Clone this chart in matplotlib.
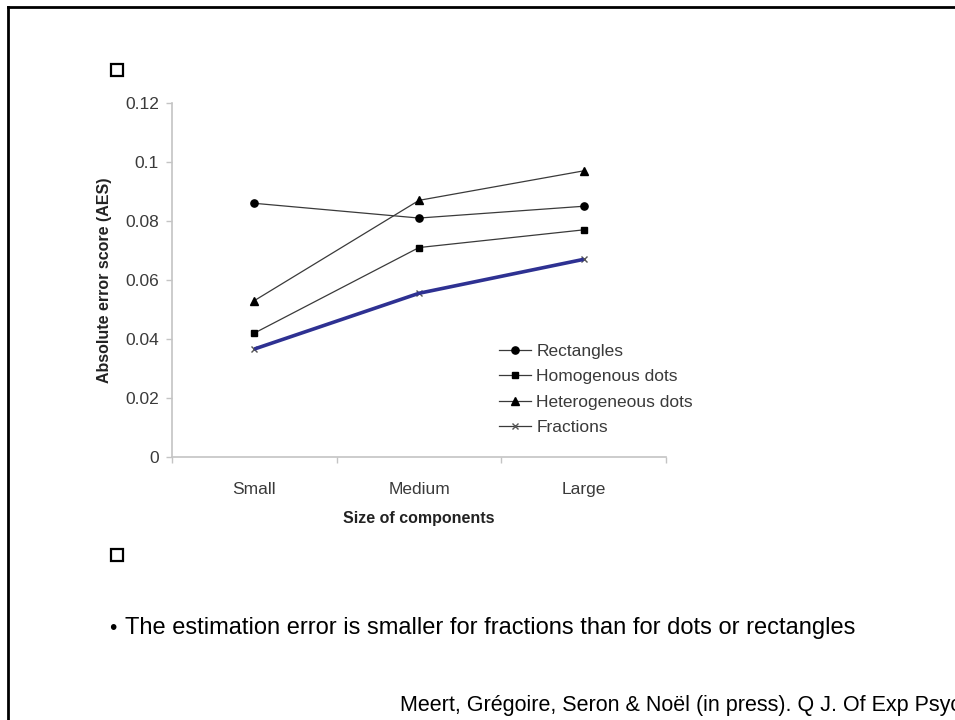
import matplotlib
matplotlib.use("Agg")
import matplotlib.pyplot as plt
from matplotlib.lines import Line2D
from matplotlib.patches import Rectangle
from matplotlib.ticker import FixedLocator, NullFormatter, FixedFormatter

plt.rcParams['font.family'] = ['Liberation Sans', 'DejaVu Sans']

categories = ["Small", "Medium", "Large"]
rectangles = [0.086, 0.081, 0.085]
homogenous = [0.042, 0.071, 0.077]
heterogeneous = [0.053, 0.087, 0.097]
fractions = [0.0366, 0.0555, 0.067]
yticks = [0, 0.02, 0.04, 0.06, 0.08, 0.1, 0.12]
ytick_labels = ["0", "0.02", "0.04", "0.06", "0.08", "0.1", "0.12"]

W, H = 955, 720
fig = plt.figure(figsize=(W / 100, H / 100), dpi=100)
fig.patch.set_facecolor("white")


def fx(x):
    return x / W


def fy(y):
    return 1 - y / H


# slide frame
frame_kw = dict(color="black", lw=2.0, transform=fig.transFigure, solid_capstyle="projecting")
fig.add_artist(Line2D([fx(7.5), fx(W + 5)], [fy(6.5), fy(6.5)], **frame_kw))
fig.add_artist(Line2D([fx(7.5), fx(7.5)], [fy(6.5), fy(H + 5)], **frame_kw))

# empty placeholder boxes
for cy in (70, 555):
    fig.add_artist(Rectangle((fx(111), fy(cy + 6)), 12 / W, 12 / H,
                             transform=fig.transFigure, fill=False,
                             edgecolor="black", lw=1.6))

left, right, top, bottom = 172, 666, 103, 457
ax = fig.add_axes([fx(left), fy(bottom), (right - left) / W, (bottom - top) / H])

x = [0.5, 1.5, 2.5]
line_col = "#3a3a3a"
ax.plot(x, rectangles, color=line_col, lw=0.9, marker="o", ms=5.2,
        mfc="black", mec="black", label="Rectangles", zorder=3)
ax.plot(x, homogenous, color=line_col, lw=0.9, marker="s", ms=5.0,
        mfc="black", mec="black", label="Homogenous dots", zorder=3)
ax.plot(x, heterogeneous, color=line_col, lw=0.9, marker="^", ms=5.4,
        mfc="black", mec="black", label="Heterogeneous dots", zorder=3)
ax.plot(x, fractions, color=line_col, lw=0.9, marker="x", ms=5.0,
        mec="#555555", mew=1.0, label="Fractions", zorder=3)
# highlighted fractions trend
ax.plot(x, fractions, color="#2E3192", lw=2.6, solid_capstyle="butt", zorder=4)

ax.set_xlim(0, 3)
ax.set_ylim(0, 0.12)
ax.set_yticks(yticks)
ax.set_yticklabels(ytick_labels)

ax.xaxis.set_major_locator(FixedLocator([0, 1, 2, 3]))
ax.xaxis.set_major_formatter(NullFormatter())
ax.xaxis.set_minor_locator(FixedLocator(x))
ax.xaxis.set_minor_formatter(FixedFormatter(categories))

for s in ("top", "right"):
    ax.spines[s].set_visible(False)
for s in ("left", "bottom"):
    ax.spines[s].set_color("#c4c4c4")
    ax.spines[s].set_linewidth(1.2)

ax.tick_params(axis="y", which="major", length=4.5, width=1, color="#c4c4c4",
               labelsize=12.5, labelcolor="#3a3a3a", pad=5)
ax.tick_params(axis="x", which="major", length=4, width=1, color="#c4c4c4")
ax.tick_params(axis="x", which="minor", length=0, labelsize=12.5,
               labelcolor="#3a3a3a", pad=18)

ax.set_ylabel("Absolute error score (AES)", fontsize=11.5, fontweight="bold",
              color="#222222", labelpad=9)
ax.set_xlabel("Size of components", fontsize=11.5, fontweight="bold",
              color="#222222", labelpad=10)

leg = ax.legend(loc="upper left", bbox_to_anchor=(fx(499), fy(344)),
                bbox_transform=fig.transFigure, frameon=False, fontsize=12.5,
                handlelength=1.85, handletextpad=0.3, labelspacing=0.58,
                borderaxespad=0, borderpad=0)
for t in leg.get_texts():
    t.set_color("#3a3a3a")

fig.text(fx(113), fy(629), "\u2022", fontsize=15, ha="center", va="center")
fig.text(fx(125), fy(628), "The estimation error is smaller for fractions than for dots or rectangles",
         fontsize=17, ha="left", va="center", color="black")
fig.text(fx(400), fy(705), "Meert, Gr\u00e9goire, Seron & No\u00ebl (in press). Q J. Of Exp Psychology",
         fontsize=15.5, ha="left", va="center", color="black")

fig.savefig("out.png", dpi=100)
